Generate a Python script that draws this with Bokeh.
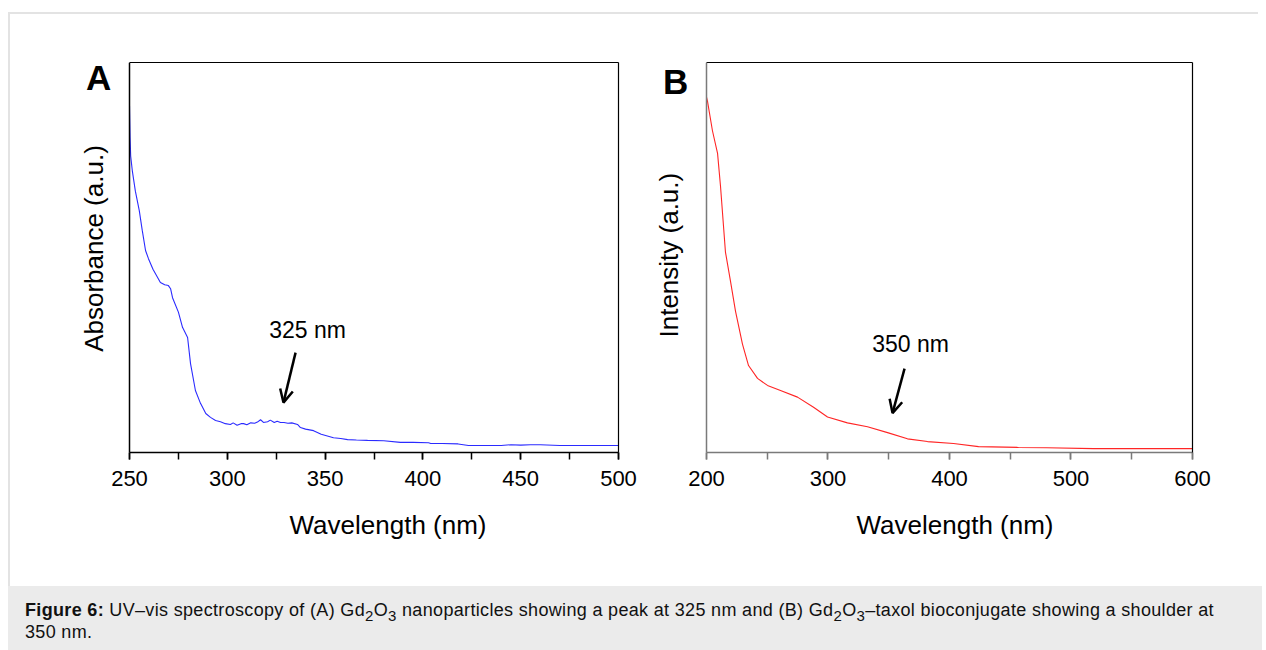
import math
from bokeh.plotting import figure
from bokeh.models import (Range1d, SingleIntervalTicker, FixedTicker, Arrow, OpenHead, Div, Spacer,
                          LinearAxis, Title)
from bokeh.layouts import row, column
from bokeh.core.properties import value
from bokeh.embed import file_html
from bokeh.resources import INLINE

FONT = "Liberation Sans"

# ---- Panel A: UV-vis absorbance of Gd2O3 nanoparticles ----
wl_a = [250.0, 250.3, 250.6, 251.5, 253.0, 255.0, 256.5, 258.2, 259.7, 262.0, 265.8, 268.0,
        269.9, 271.0, 272.0, 275.0, 277.1, 279.7, 281.2, 283.7, 286.3, 289.0, 291.4, 294.0,
        296.5, 299.0, 301.6, 303.0, 305.0, 307.0, 308.3, 310.0, 312.0, 314.0, 315.4, 317.0,
        318.5, 320.6, 322.0, 324.0, 325.5, 327.2, 329.0, 331.0, 333.0, 335.9, 337.4, 340.0,
        344.1, 348.0, 354.3, 358.0, 361.5, 366.0, 371.7, 380.0, 388.5, 395.0, 402.9, 404.0,
        410.0, 418.0, 423.3, 440.0, 445.0, 450.0, 455.0, 460.0, 470.0, 475.0, 485.0, 500.0]
abs_a = [0.890, 0.808, 0.760, 0.720, 0.670, 0.620, 0.570, 0.518, 0.497, 0.470, 0.436, 0.430,
         0.428, 0.420, 0.397, 0.360, 0.321, 0.295, 0.228, 0.159, 0.126, 0.100, 0.090, 0.082,
         0.079, 0.074, 0.072, 0.076, 0.070, 0.074, 0.074, 0.071, 0.076, 0.075, 0.078, 0.084,
         0.077, 0.079, 0.083, 0.077, 0.080, 0.077, 0.077, 0.075, 0.076, 0.072, 0.064, 0.060,
         0.056, 0.047, 0.038, 0.036, 0.033, 0.032, 0.031, 0.030, 0.026, 0.026, 0.025, 0.023,
         0.023, 0.022, 0.018, 0.018, 0.020, 0.019, 0.020, 0.020, 0.018, 0.018, 0.018, 0.018]

# ---- Panel B: Gd2O3-taxol bioconjugate ----
wl_b = [200.0, 200.8, 204.9, 209.1, 211.5, 215.6, 219.8, 223.9, 229.6, 234.6, 242.0, 250.2,
        260.9, 274.9, 288.1, 299.6, 316.0, 332.5, 349.0, 365.4, 381.9, 403.3, 423.9, 456.8,
        480.0, 518.5, 540.0, 570.0, 600.0]
int_b = [0.911, 0.901, 0.825, 0.767, 0.684, 0.514, 0.438, 0.362, 0.278, 0.223, 0.190, 0.172,
         0.159, 0.142, 0.116, 0.091, 0.076, 0.066, 0.051, 0.035, 0.028, 0.023, 0.015, 0.013,
         0.012, 0.010, 0.010, 0.010, 0.010]

# axis extents and titles
xlim_a = [250, 500]
xlim_b = [200, 600]
x_title = "Wavelength (nm)"
ya_title = "Absorbance (a.u.)"
yb_title = "Intensity (a.u.)"

# annotations: text position, arrow [x_start, y_start, x_end, y_end], panel letter, y title
note_a_text = "325 nm"
note_a_pos = [341.0, 0.313]
arrow_a = [334.9, 0.256, 328.7, 0.128]
letter_a_pos = [234.2, 0.962]
ytitle_a_pos = [231.6, 0.523]

note_b_text = "350 nm"
note_b_pos = [367.9, 0.278]
arrow_b = [363.0, 0.215, 353.1, 0.101]
letter_b_pos = [174.5, 0.952]
ytitle_b_pos = [168.9, 0.506]


def make_panel(width, height, xr, xlim, interval, bl, br, bt, bb, axis_color, title_offset):
    p = figure(width=width, height=height, x_range=Range1d(*xr), y_range=Range1d(0, 1),
               output_backend="svg", toolbar_location=None, margin=0,
               min_border_left=bl, min_border_right=br, min_border_top=bt, min_border_bottom=bb)
    p.grid.visible = False
    p.outline_line_color = None
    p.background_fill_color = "white"
    p.border_fill_color = "white"
    xa = p.xaxis[0]
    xa.bounds = tuple(xlim)
    xa.ticker = SingleIntervalTicker(interval=interval, num_minor_ticks=2)
    xa.axis_line_color = axis_color
    xa.axis_line_width = 1.5
    xa.major_tick_line_color = axis_color
    xa.minor_tick_line_color = axis_color
    xa.major_tick_line_width = 1.5
    xa.minor_tick_line_width = 1.5
    xa.major_tick_in = 0
    xa.minor_tick_in = 0
    xa.major_tick_out = 7
    xa.minor_tick_out = 7
    xa.major_label_standoff = 11
    xa.major_label_text_font = FONT
    xa.major_label_text_font_size = "22px"
    xa.major_label_text_color = "black"
    # x title as a below-panel title, shifted to sit under the plotted span
    p.add_layout(Title(text=x_title, align="left", offset=title_offset, text_font=FONT,
                       text_font_size="26px", text_font_style="normal", text_color="black",
                       standoff=38), "below")
    ya = p.yaxis[0]
    ya.fixed_location = xlim[0]
    ya.ticker = FixedTicker(ticks=[])
    ya.axis_line_color = axis_color
    ya.axis_line_width = 1.5
    ya.major_tick_line_color = None
    ya.minor_tick_line_color = None
    ya.major_tick_out = 0
    ya.major_tick_in = 0
    # frame box: top and right edges drawn by bare axes
    top = LinearAxis(ticker=FixedTicker(ticks=[]), bounds=tuple(xlim), axis_line_color="black",
                     axis_line_width=1.2, major_tick_line_color=None, minor_tick_line_color=None,
                     major_tick_out=0, major_tick_in=0)
    right = LinearAxis(ticker=FixedTicker(ticks=[]), axis_line_color="black", axis_line_width=1.2,
                       major_tick_line_color=None, minor_tick_line_color=None,
                       major_tick_out=0, major_tick_in=0)
    p.add_layout(top, "above")
    p.add_layout(right, "right")
    return p


def decorate(p, wl, vals, color, note_text, note_pos, arrow, letter, letter_pos, ytitle, ytitle_pos):
    p.line(wl, vals, line_color=color, line_width=1.1)
    p.text(x=[note_pos[0]], y=[note_pos[1]], text=[note_text], text_font=value(FONT),
           text_font_size="23px", text_align="center", text_baseline="middle", text_color="black")
    p.add_layout(Arrow(end=OpenHead(size=13, line_width=2.5, line_color="black"),
                       x_start=arrow[0], y_start=arrow[1], x_end=arrow[2], y_end=arrow[3],
                       line_width=2.5, line_color="black"))
    p.text(x=[letter_pos[0]], y=[letter_pos[1]], text=[letter], text_font=value(FONT),
           text_font_size="35px", text_font_style="bold", text_align="center",
           text_baseline="middle", text_color="black")
    p.text(x=[ytitle_pos[0]], y=[ytitle_pos[1]], text=[ytitle], text_font=value(FONT),
           text_font_size="26px", text_align="center", text_baseline="middle",
           text_color="black", angle=math.pi / 2)


# panel A: canvas x 10..640, frame 70..618 (axis 250 at px 129)
pA = make_panel(630, 572, (219.836, 500), xlim_a, 50, 60, 22, 48, 134, "black", 219)
decorate(pA, wl_a, abs_a, "#2b2bff", note_a_text, note_a_pos, arrow_a, "A", letter_a_pos,
         ya_title, ytitle_a_pos)

# panel B: canvas x 640..1258, frame 650..1192 (axis 200 at px 706)
pB = make_panel(618, 572, (153.91, 600), xlim_b, 100, 10, 66, 44, 133, "#7a7a7a", 206)
decorate(pB, wl_b, int_b, "#ff2525", note_b_text, note_b_pos, arrow_b, "B", letter_b_pos,
         yb_title, ytitle_b_pos)

border = "#e3e3e3"
top_gap = Spacer(width=1258, height=12, margin=0)
top_bar = row(Spacer(width=8, height=2, margin=0),
              Spacer(width=1250, height=2, margin=0, styles={"background-color": border}),
              spacing=0, margin=0)
left_gap = Spacer(width=8, height=572, margin=0)
left_bar = Spacer(width=2, height=572, margin=0, styles={"background-color": border})

caption_html = ('<div style="padding:13px 0 0 17px; font-family:\'Liberation Sans\', Arial, sans-serif; '
                'font-size:18px; letter-spacing:0.33px; line-height:22px; color:#111; white-space:nowrap;">'
                '<b>Figure 6:</b> UV–vis spectroscopy of (A) Gd<sub style="line-height:0">2</sub>'
                'O<sub style="line-height:0">3</sub> nanoparticles '
                'showing a peak at 325 nm and (B) Gd<sub style="line-height:0">2</sub>'
                'O<sub style="line-height:0">3</sub>–taxol bioconjugate '
                'showing a shoulder at<br>350 nm.</div>')
caption = Div(text=caption_html, width=1254, height=64, margin=0,
              styles={"background-color": "#ebebeb"})

layout = column(top_gap, top_bar,
                row(left_gap, left_bar, pA, pB, spacing=0, margin=0),
                row(Spacer(width=8, height=64, margin=0), caption, spacing=0, margin=0),
                spacing=0, margin=0)

open("out.html", "w").write(file_html(layout, INLINE))
